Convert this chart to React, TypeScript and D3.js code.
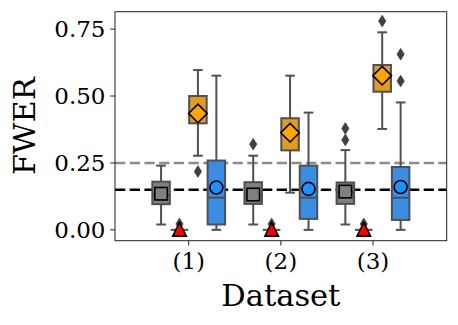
import React from "react";
import * as d3 from "d3";

const datasets = ["(1)", "(2)", "(3)"];
const methods = ["gray", "red", "orange", "blue"];
const methodOffsets = [-0.3, -0.1, 0.1, 0.3];
const boxFill = ["#808080", "#df2020", "#df9c20", "#3a8de3"];
const markerFill = ["#808080", "#ff0000", "#ffa500", "#1e90ff"];
const markerShape = ["square", "triangle", "diamond", "circle"];

// [whiskerLow, q1, median, q3, whiskerHigh] per dataset
const grayStats = [
  [0.02, 0.096, 0.13, 0.18, 0.24],
  [0.02, 0.097, 0.13, 0.178, 0.277],
  [0.02, 0.097, 0.14, 0.177, 0.298],
];
const redStats = [
  [0, 0, 0, 0, 0],
  [0, 0, 0, 0, 0],
  [0, 0, 0, 0, 0],
];
const orangeStats = [
  [0.277, 0.398, 0.44, 0.5, 0.597],
  [0.139, 0.297, 0.36, 0.417, 0.576],
  [0.377, 0.516, 0.58, 0.616, 0.738],
];
const blueStats = [
  [0, 0.02, 0.12, 0.259, 0.576],
  [0, 0.041, 0.12, 0.24, 0.438],
  [0, 0.037, 0.12, 0.235, 0.476],
];
const grayMeans = [0.135, 0.132, 0.143];
const redMeans = [0.002, 0.002, 0.002];
const orangeMeans = [0.435, 0.363, 0.576];
const blueMeans = [0.158, 0.153, 0.16];
const grayOutliers = [[], [0.32], [0.336, 0.379]];
const redOutliers = [[0.022], [0.022], [0.022]];
const orangeOutliers = [[0.218], [], [0.78]];
const blueOutliers = [[], [], [0.556, 0.656]];

const refLines = [0.25, 0.15];
const refColors = ["#8c8c8c", "#000000"];
const yTicks = [0, 0.25, 0.5, 0.75];

const allStats = [grayStats, redStats, orangeStats, blueStats];
const allMeans = [grayMeans, redMeans, orangeMeans, blueMeans];
const allOutliers = [grayOutliers, redOutliers, orangeOutliers, blueOutliers];

const FONT = "DejaVu Serif";
const LINE = "#505050";

export default function App() {
  const left = 115, right = 446.7, top = 11.7, bottom = 240.7;
  const x = d3.scaleLinear().domain([-0.8, 2.8]).range([left, right]);
  const y = d3.scaleLinear().domain([-0.0405, 0.815]).range([bottom, top]);
  const unit = x(1) - x(0);
  const boxW = unit * 0.19;
  const capW = unit * 0.105;

  const marker = (shape: string, cx: number, cy: number, fill: string, key: string) => {
    if (shape === "square") {
      const s = 12.5;
      return <rect key={key} x={cx - s / 2} y={cy - s / 2} width={s} height={s} fill={fill} stroke="#000" strokeWidth={1.6} />;
    }
    if (shape === "circle") {
      return <circle key={key} cx={cx} cy={cy} r={6.5} fill={fill} stroke="#000" strokeWidth={1.6} />;
    }
    if (shape === "diamond") {
      const r = 9.3;
      const p = d3.path();
      p.moveTo(cx, cy - r); p.lineTo(cx + r, cy); p.lineTo(cx, cy + r); p.lineTo(cx - r, cy); p.closePath();
      return <path key={key} d={p.toString()} fill={fill} stroke="#000" strokeWidth={1.6} />;
    }
    const r = 6.8;
    const p = d3.path();
    p.moveTo(cx, cy - r); p.lineTo(cx + r, cy + r); p.lineTo(cx - r, cy + r); p.closePath();
    return <path key={key} d={p.toString()} fill={fill} stroke="#000" strokeWidth={1.6} />;
  };

  const flier = (cx: number, cy: number, key: string) => {
    const p = d3.path();
    p.moveTo(cx, cy - 5.8); p.lineTo(cx + 3.6, cy); p.lineTo(cx, cy + 5.8); p.lineTo(cx - 3.6, cy); p.closePath();
    return <path key={key} d={p.toString()} fill="#3f3f3f" stroke="#3f3f3f" strokeWidth={0.8} />;
  };

  const boxes: React.ReactNode[] = [];
  const means: React.ReactNode[] = [];
  methods.forEach((m, mi) => {
    datasets.forEach((ds, di) => {
      const [wl, q1, med, q3, wh] = allStats[mi][di];
      const cx = x(di + methodOffsets[mi]);
      const k = `${m}-${di}`;
      allOutliers[mi][di].forEach((o, oi) => boxes.push(flier(cx, y(o), `${k}-o${oi}`)));
      boxes.push(
        <g key={k} stroke={LINE} strokeWidth={2}>
          <line x1={cx} x2={cx} y1={y(wh)} y2={y(q3)} />
          <line x1={cx} x2={cx} y1={y(q1)} y2={y(wl)} />
          <line x1={cx - capW / 2} x2={cx + capW / 2} y1={y(wh)} y2={y(wh)} />
          <line x1={cx - capW / 2} x2={cx + capW / 2} y1={y(wl)} y2={y(wl)} />
          <rect x={cx - boxW / 2} y={y(q3)} width={boxW} height={Math.max(0, y(q1) - y(q3))} fill={boxFill[mi]} />
          <line x1={cx - boxW / 2} x2={cx + boxW / 2} y1={y(med)} y2={y(med)} />
        </g>
      );
      means.push(marker(markerShape[mi], cx, y(allMeans[mi][di]), markerFill[mi], `${k}-mean`));
    });
  });

  return (
    <svg width={458} height={325} style={{ position: "absolute", left: 0, top: 0 }} fontFamily={FONT}>
      <rect x={0} y={0} width={458} height={325} fill="#fff" />
      {refLines.map((v, i) => (
        <line key={"ref" + i} x1={left} x2={right} y1={y(v)} y2={y(v)} stroke={refColors[i]} strokeWidth={2.6} strokeDasharray="10.3 4.4" />
      ))}
      {boxes}
      {means}
      <rect x={left} y={top} width={right - left} height={bottom - top} fill="none" stroke="#222" strokeWidth={1} />
      {yTicks.map((t) => (
        <g key={"yt" + t}>
          <line x1={left - 4.8} x2={left} y1={y(t)} y2={y(t)} stroke="#222" strokeWidth={1} />
          <text x={left - 9.5} y={y(t)} dy="0.36em" textAnchor="end" fontSize={23} fill="#000">{d3.format(".2f")(t)}</text>
        </g>
      ))}
      {datasets.map((d, i) => (
        <g key={"xt" + i}>
          <line x1={x(i)} x2={x(i)} y1={bottom} y2={bottom + 4.8} stroke="#222" strokeWidth={1} />
          <text x={x(i)} y={268.5} textAnchor="middle" fontSize={23} fill="#000">{d}</text>
        </g>
      ))}
      <text x={(left + right) / 2} y={306} textAnchor="middle" fontSize={30.5} fill="#000">Dataset</text>
      <text transform={`translate(35,${(top + bottom) / 2}) rotate(-90)`} textAnchor="middle" fontSize={30.5} fill="#000">FWER</text>
    </svg>
  );
}
